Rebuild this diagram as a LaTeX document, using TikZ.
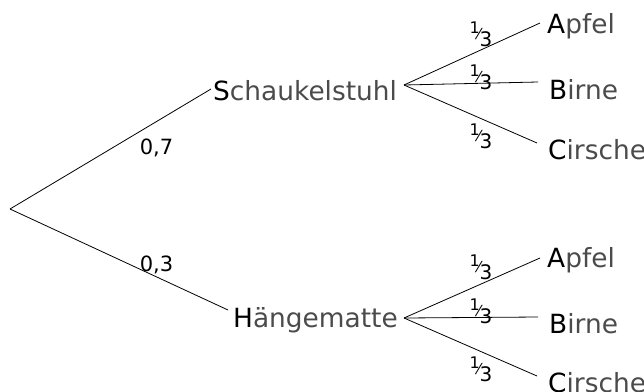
\documentclass[tikz,border=0pt]{standalone}
\usepackage{fontspec}
\setmainfont{DejaVu Sans}
\definecolor{restgray}{RGB}{75,75,75}
\newcommand{\fl}[2]{\textcolor{black}{#1}\textcolor{restgray}{#2}}
\newcommand{\onethird}{\raisebox{13pt}{\fontsize{16}{16}\selectfont 1}\kern-1pt\makebox[0pt]{\raisebox{7pt}{\fontsize{15}{15}\selectfont ⁄}}\kern0.7pt{\fontsize{20}{20}\selectfont 3}}
\begin{document}
\begin{tikzpicture}[x=1pt,y=-1pt,
  namebox/.style={font=\fontsize{26.4}{30}\selectfont, inner sep=0pt, anchor=base west},
  prob/.style={font=\fontsize{21}{24}\selectfont, inner sep=0pt, anchor=base},
  fracbox/.style={inner sep=0pt, anchor=base west},
  edge/.style={line width=0.8pt, black}]
\useasboundingbox (0,0) rectangle (644,391);
\coordinate (r) at (10,209);
\coordinate (fS) at (404,85);
\coordinate (fH) at (404,318);
\node[namebox] (S) at (213,100) {\fl{S}{chaukelstuhl}};
\node[namebox] (H) at (233,327) {\fl{H}{ängematte}};
\node[namebox] (SA) at (547,33) {\fl{A}{pfel}};
\node[namebox] (SB) at (549,99) {\fl{B}{irne}};
\node[namebox] (SC) at (548,159) {\fl{C}{irsche}};
\node[namebox] (HA) at (547,267) {\fl{A}{pfel}};
\node[namebox] (HB) at (549,333) {\fl{B}{irne}};
\node[namebox] (HC) at (548,392) {\fl{C}{irsche}};
\draw[edge] (r) -- ([shift={(-2,-11)}]S.base west);
\draw[edge] (r) -- ([shift={(-5,-17)}]H.base west);
\draw[edge] (fS) -- ([shift={(-7,-10)}]SA.base west);
\draw[edge] (fS) -- ([shift={(-11,-17)}]SB.base west);
\draw[edge] (fS) -- ([shift={(-11,-16)}]SC.base west);
\draw[edge] (fH) -- ([shift={(-7,-9)}]HA.base west);
\draw[edge] (fH) -- ([shift={(-11,-16)}]HB.base west);
\draw[edge] (fH) -- ([shift={(-11,-16)}]HC.base west);
\node[prob] (p1) at (156.5,154) {0,7};
\node[prob] (p2) at (156.5,271) {0,3};
\node[fracbox] (q1) at (469.5,46) {\onethird};
\node[fracbox] (q2) at (469.5,89.5) {\onethird};
\node[fracbox] (q3) at (469.5,148.5) {\onethird};
\node[fracbox] (q4) at (469.5,279.5) {\onethird};
\node[fracbox] (q5) at (469.5,323) {\onethird};
\node[fracbox] (q6) at (469.5,381.5) {\onethird};
\end{tikzpicture}
\end{document}
